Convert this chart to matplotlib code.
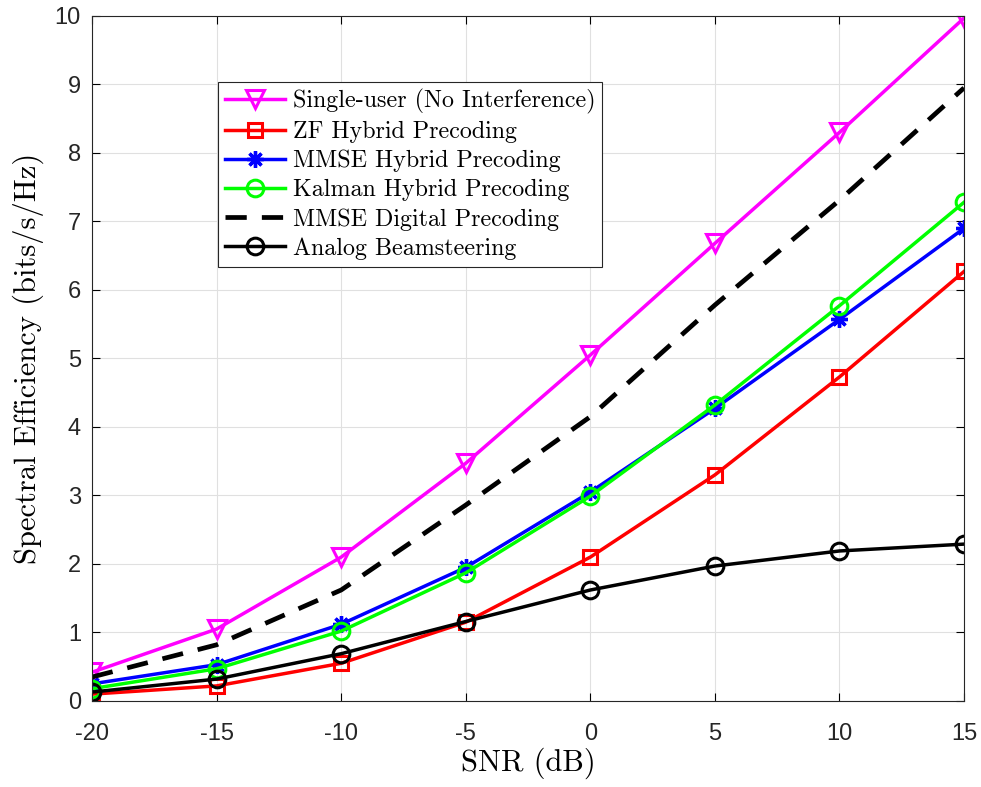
import matplotlib
matplotlib.use('Agg')
import matplotlib.pyplot as plt

plt.rcParams['axes.unicode_minus'] = False

# SNR points (dB)
snr = [-20, -15, -10, -5, 0, 5, 10, 15]

# spectral efficiency
single_user = [0.42, 1.05, 2.10, 3.47, 5.05, 6.68, 8.30, 9.97]
zf_hybrid = [0.10, 0.22, 0.55, 1.15, 2.10, 3.30, 4.73, 6.27]
mmse_hybrid = [0.25, 0.53, 1.12, 1.95, 3.05, 4.27, 5.57, 6.90]
kalman_hybrid = [0.18, 0.47, 1.02, 1.87, 2.99, 4.32, 5.77, 7.28]
mmse_digital = [0.35, 0.82, 1.62, 2.86, 4.15, 5.78, 7.31, 8.95]
analog_beam = [0.13, 0.32, 0.69, 1.16, 1.62, 1.97, 2.19, 2.29]

labels = ['Single-user (No Interference)', 'ZF Hybrid Precoding',
          'MMSE Hybrid Precoding', 'Kalman Hybrid Precoding',
          'MMSE Digital Precoding', 'Analog Beamsteering']

tick_font = 'Liberation Sans'
tex_font = 'cmr10'

fig = plt.figure(figsize=(9.81, 7.87), dpi=100)
ax = fig.add_axes([0.0938, 0.1093, 0.8889, 0.8704])

lw = 2.5
mew = 2.2
ax.plot(snr, single_user, color='#ff00ff', marker='v', ms=13, mfc='none', mew=mew, lw=lw, label=labels[0])
ax.plot(snr, zf_hybrid, color='#ff0000', marker='s', ms=10, mfc='none', mew=mew, lw=lw, label=labels[1])
ax.plot(snr, mmse_hybrid, color='#0000ff', marker=(8, 2, 0), ms=12, mew=2.4, lw=lw, label=labels[2])
ax.plot(snr, kalman_hybrid, color='#00ff00', marker='o', ms=12, mfc='none', mew=mew, lw=lw, label=labels[3])
ax.plot(snr, mmse_digital, color='black', ls=(0, (4.5, 3.2)), lw=3.4, label=labels[4])
ax.plot(snr, analog_beam, color='black', marker='o', ms=12, mfc='none', mew=mew, lw=lw, label=labels[5])

ax.set_xlim(-20, 15)
ax.set_ylim(0, 10)
ax.set_xticks(snr)
ax.set_yticks(range(0, 11))
ax.grid(True, color='#e0e0e0', lw=0.8)
ax.set_axisbelow(True)
ax.tick_params(direction='in', length=6, width=0.8, labelsize=17, top=True, right=True)
ax.tick_params(axis='x', pad=16)
ax.tick_params(axis='y', pad=8)
for t in ax.get_xticklabels() + ax.get_yticklabels():
    t.set_fontfamily(tick_font)
    t.set_color('#262626')
for s in ax.spines.values():
    s.set_color('#262626')
    s.set_linewidth(0.8)

ax.set_xlabel('SNR (dB)', fontfamily=tex_font, fontsize=22, labelpad=2)
ax.set_ylabel('Spectral Efficiency (bits/s/Hz)', fontfamily=tex_font, fontsize=22, labelpad=8)

leg = ax.legend(loc='upper left', bbox_to_anchor=(0.1445, 0.9036), borderaxespad=0,
                prop={'family': tex_font, 'size': 17.3}, fancybox=False, framealpha=1,
                edgecolor='#262626', handlelength=2.5, labelspacing=0.28,
                handletextpad=0.3, borderpad=0.3)
leg.get_frame().set_linewidth(0.8)

fig.savefig('out.png', dpi=100)
